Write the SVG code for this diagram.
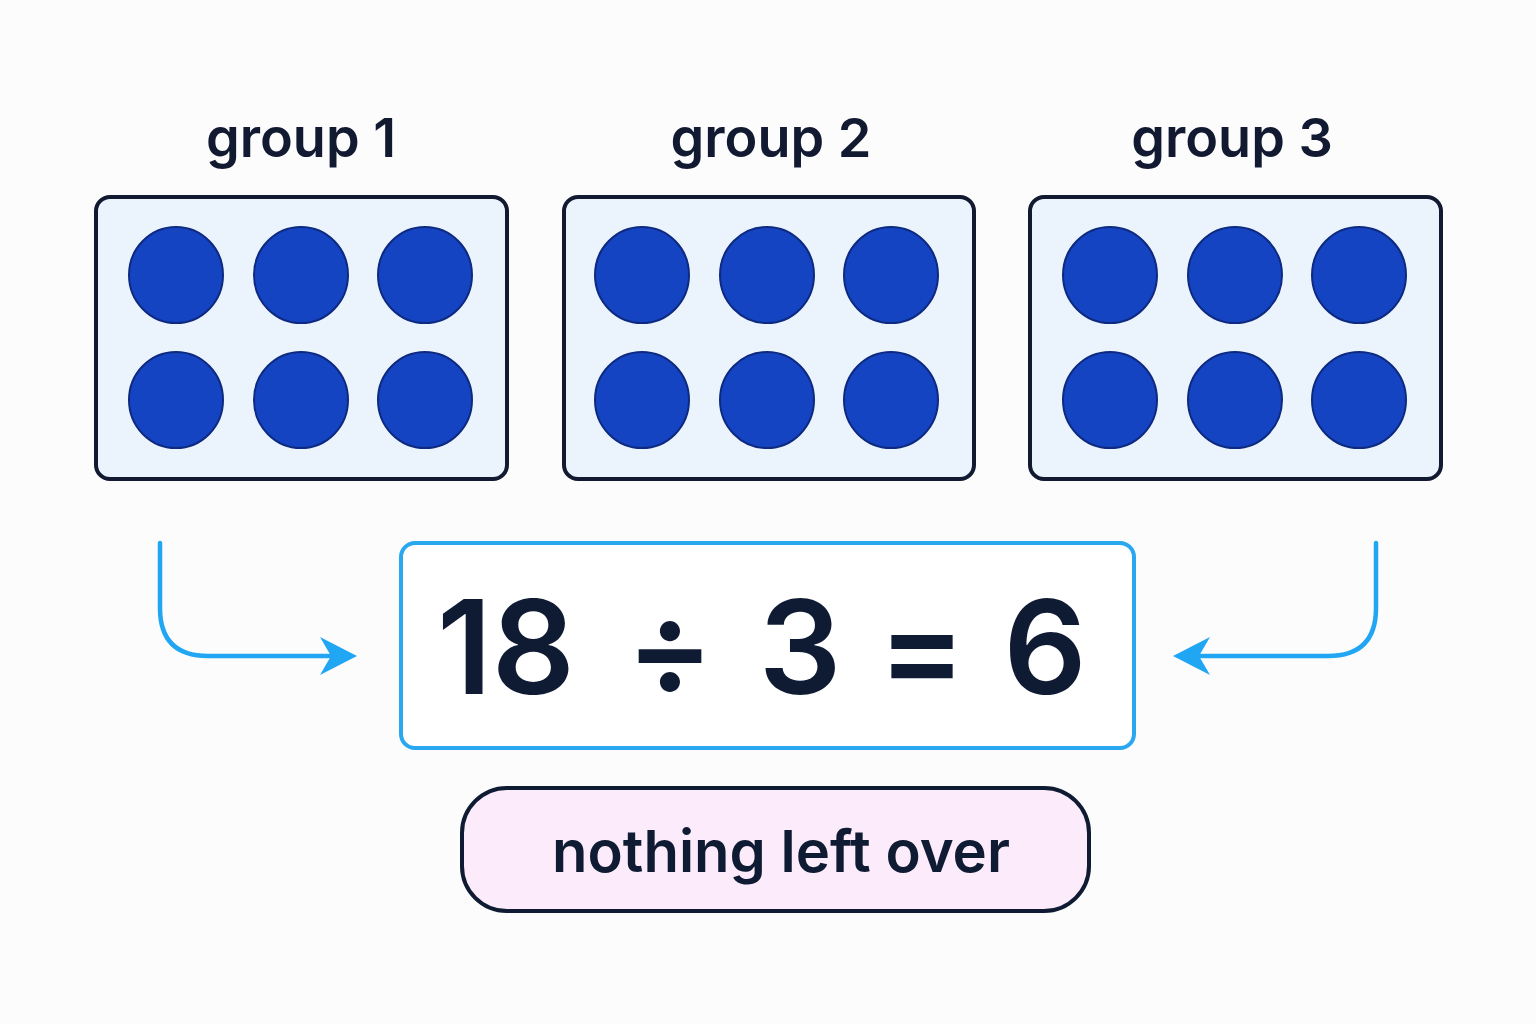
<svg xmlns="http://www.w3.org/2000/svg" width="1536" height="1024" viewBox="0 0 1536 1024">
<style>
.box{fill:#ebf4fd;stroke:#111a30;stroke-width:4}
.dot{fill:#1544c3;stroke:#0d2a80;stroke-width:2}
.lbl{font-family:Inter,"Liberation Sans",sans-serif;font-weight:600;font-size:54px;fill:#111a30;text-anchor:middle}
.eq{font-family:Inter,"Liberation Sans",sans-serif;font-weight:600;font-size:130px;fill:#0f1a33;text-anchor:middle}
.conn{fill:none;stroke:#21a6f3;stroke-width:4.5;stroke-linecap:round}
</style>
<defs>
<g id="dots">
<ellipse class="dot" cx="0" cy="0" rx="47" ry="48"/><ellipse class="dot" cx="125" cy="0" rx="47" ry="48"/><ellipse class="dot" cx="249" cy="0" rx="47" ry="48"/>
<ellipse class="dot" cx="0" cy="125" rx="47" ry="48"/><ellipse class="dot" cx="125" cy="125" rx="47" ry="48"/><ellipse class="dot" cx="249" cy="125" rx="47" ry="48"/>
</g>
</defs>
<rect width="1536" height="1024" fill="#fcfcfd"/>
<g id="group1">
<text class="lbl" x="301" y="157">group 1</text>
<rect class="box" x="96" y="197" width="411" height="282" rx="14"/>
<use href="#dots" x="176" y="275"/>
</g>
<g id="group2">
<text class="lbl" x="771" y="157">group 2</text>
<rect class="box" x="564" y="197" width="410" height="282" rx="14"/>
<use href="#dots" x="642" y="275"/>
</g>
<g id="group3">
<text class="lbl" x="1232" y="157">group 3</text>
<rect class="box" x="1030" y="197" width="411" height="282" rx="14"/>
<use href="#dots" x="1110" y="275"/>
</g>
<g id="equation">
<rect x="401" y="543" width="733" height="205" rx="14" fill="#fff" stroke="#29a8f0" stroke-width="4"/>
<text class="eq" x="506" y="694">18</text>
<text class="eq" x="670" y="694">÷</text>
<text class="eq" x="800" y="694">3</text>
<text class="eq" x="922" y="694">=</text>
<text class="eq" x="1045" y="694">6</text>
</g>
<g id="remainder">
<rect x="462" y="788" width="627" height="123" rx="45" fill="#fcecfb" stroke="#0f1a33" stroke-width="4"/>
<text x="781" y="872" font-family="Inter,'Liberation Sans',sans-serif" font-weight="600" font-size="58" fill="#0f1a33" text-anchor="middle">nothing left over</text>
</g>
<g id="connectors">
<path class="conn" d="M160 543 V608 Q160 656 208 656 H332"/>
<path d="M357 656 L320 637 L331 656 L320 675 Z" fill="#21a6f3"/>
<path class="conn" d="M1376 543 V608 Q1376 656 1328 656 H1200"/>
<path d="M1173 656 L1210 637 L1199 656 L1210 675 Z" fill="#21a6f3"/>
</g>
</svg>
